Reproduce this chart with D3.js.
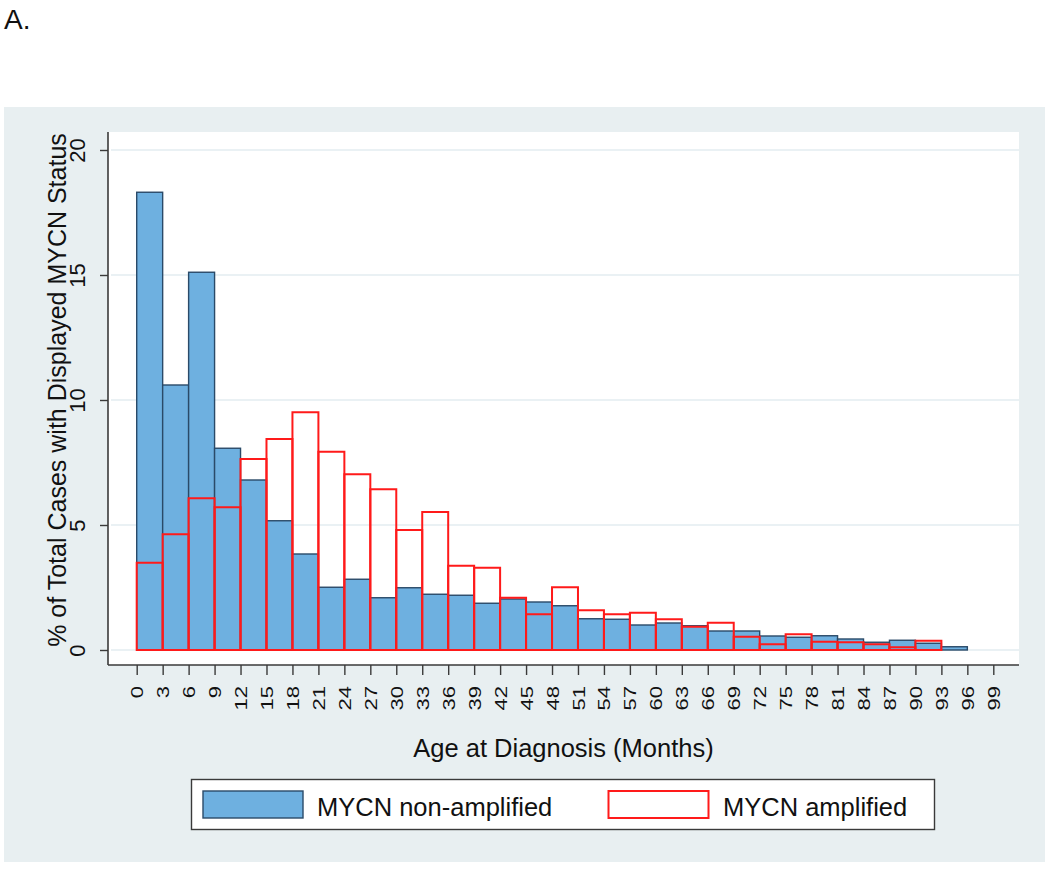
<!DOCTYPE html>
<html><head><meta charset="utf-8">
<script src="https://cdn.jsdelivr.net/npm/d3@7"></script>
<style>
html,body{margin:0;padding:0;background:#fff;}
svg{display:block;font-family:"Liberation Sans",Arial,Helvetica,sans-serif;}
</style></head>
<body>
<svg id="chart" width="1050" height="869"></svg>
<script>
// Bin starts (months), bin width 3
const binWidth = 3;
const nonAmpStarts = [0,3,6,9,12,15,18,21,24,27,30,33,36,39,42,45,48,51,54,57,60,63,66,69,72,75,78,81,84,87,90,93];
const nonAmpValues = [18.31,10.6,15.11,8.07,6.8,5.17,3.84,2.51,2.83,2.09,2.49,2.23,2.19,1.87,2.04,1.92,1.77,1.25,1.23,1.0,1.08,0.97,0.76,0.76,0.56,0.51,0.57,0.44,0.31,0.39,0.27,0.13];
const ampStarts = [0,3,6,9,12,15,18,21,24,27,30,33,36,39,42,45,48,51,54,57,60,63,66,69,72,75,78,81,84,87,90];
const ampValues = [3.49,4.63,6.07,5.71,7.64,8.44,9.51,7.93,7.03,6.43,4.8,5.52,3.37,3.29,2.09,1.43,2.51,1.59,1.43,1.49,1.23,0.93,1.09,0.53,0.23,0.63,0.33,0.31,0.23,0.11,0.37];
const xTicks = d3.range(0, 100, 3);
const yTicks = [0,5,10,15,20];
const seriesNames = ["MYCN non-amplified","MYCN amplified"];

const svg = d3.select("#chart");
const bg = "#e8eff1";
// outer graph region
svg.append("rect").attr("x",4).attr("y",107).attr("width",1041).attr("height",755).attr("fill",bg);
// panel label
svg.append("text").attr("x",4).attr("y",29).attr("font-size",28)
  .attr("fill","#111").text("A.");

const plot = {left:108, right:1019, top:132, bottom:665};
svg.append("rect").attr("x",plot.left).attr("y",plot.top).attr("width",plot.right-plot.left)
  .attr("height",plot.bottom-plot.top).attr("fill","#fff");

const x = d3.scaleLinear().domain([0,99]).range([136.7,993.3]);
const y = d3.scaleLinear().domain([0,20]).range([650,150]);

// gridlines
svg.append("g").selectAll("line").data(yTicks).join("line")
  .attr("x1",plot.left+3).attr("x2",plot.right).attr("y1",d=>y(d)).attr("y2",d=>y(d))
  .attr("stroke","#e3ecf0").attr("stroke-width",1.5);

// blue bars
svg.append("g").selectAll("rect").data(nonAmpStarts.map((s,i)=>({s,v:nonAmpValues[i]}))).join("rect")
  .attr("x",d=>x(d.s)).attr("width",d=>x(d.s+binWidth)-x(d.s))
  .attr("y",d=>y(d.v)).attr("height",d=>y(0)-y(d.v))
  .attr("fill","#6eb0e0").attr("stroke","#2a4a68").attr("stroke-width",1.4);
// red outline bars
svg.append("g").selectAll("rect").data(ampStarts.map((s,i)=>({s,v:ampValues[i]}))).join("rect")
  .attr("x",d=>x(d.s)).attr("width",d=>x(d.s+binWidth)-x(d.s))
  .attr("y",d=>y(d.v)).attr("height",d=>y(0)-y(d.v))
  .attr("fill","none").attr("stroke","#ff1a1a").attr("stroke-width",2);

// axes lines
const axCol = "#3a3a3a";
svg.append("line").attr("x1",plot.left).attr("x2",plot.left).attr("y1",plot.top).attr("y2",plot.bottom)
  .attr("stroke",axCol).attr("stroke-width",1.6);
svg.append("line").attr("x1",plot.left).attr("x2",plot.right).attr("y1",plot.bottom).attr("y2",plot.bottom)
  .attr("stroke",axCol).attr("stroke-width",1.6);

// y axis ticks
const yAxis = svg.append("g").attr("transform",`translate(${plot.left},0)`)
  .call(d3.axisLeft(y).tickValues(yTicks).tickSize(8).tickSizeOuter(0).tickFormat(d3.format("d")));
yAxis.select(".domain").remove();
yAxis.selectAll(".tick line").attr("stroke",axCol).attr("stroke-width",1.4);
yAxis.selectAll(".tick text").attr("x",null).attr("dy",null)
  .attr("transform","translate(-23,0) rotate(-90)").attr("text-anchor","middle")
  .attr("font-size",22).attr("fill","#111").attr("font-family","'Liberation Sans',Arial,sans-serif");

// x axis ticks
const xAxis = svg.append("g").attr("transform",`translate(0,${plot.bottom})`)
  .call(d3.axisBottom(x).tickValues(xTicks).tickSize(10).tickSizeOuter(0).tickFormat(d3.format("d")));
xAxis.select(".domain").remove();
xAxis.selectAll(".tick line").attr("stroke",axCol).attr("stroke-width",1.4);
xAxis.selectAll(".tick text").attr("y",null).attr("dy","0.36em")
  .attr("transform","translate(0,21) rotate(-90) scale(1,0.76)").attr("text-anchor","end")
  .attr("font-size",22).attr("fill","#111").attr("font-family","'Liberation Sans',Arial,sans-serif");

// axis titles
svg.append("text").attr("transform","translate(66,390) rotate(-90)").attr("text-anchor","middle")
  .attr("font-size",25).attr("fill","#111").text("% of Total Cases with Displayed MYCN Status");
svg.append("text").attr("x",(plot.left+plot.right)/2).attr("y",757).attr("text-anchor","middle")
  .attr("font-size",25.5).attr("fill","#111").text("Age at Diagnosis (Months)");

// legend
const lg = svg.append("g");
lg.append("rect").attr("x",191.5).attr("y",779.5).attr("width",743).attr("height",50)
  .attr("fill","#fff").attr("stroke","#3a3a3a").attr("stroke-width",1.4);
lg.append("rect").attr("x",203).attr("y",791).attr("width",100).attr("height",27)
  .attr("fill","#6eb0e0").attr("stroke","#2a4a68").attr("stroke-width",1.4);
lg.append("text").attr("x",317).attr("y",815.5).attr("font-size",25.5).attr("fill","#111").text(seriesNames[0]);
lg.append("rect").attr("x",608.5).attr("y",791).attr("width",100).attr("height",27)
  .attr("fill","#fff").attr("stroke","#ff1a1a").attr("stroke-width",2);
lg.append("text").attr("x",723).attr("y",815.5).attr("font-size",25.5).attr("fill","#111").text(seriesNames[1]);
</script>
</body></html>
